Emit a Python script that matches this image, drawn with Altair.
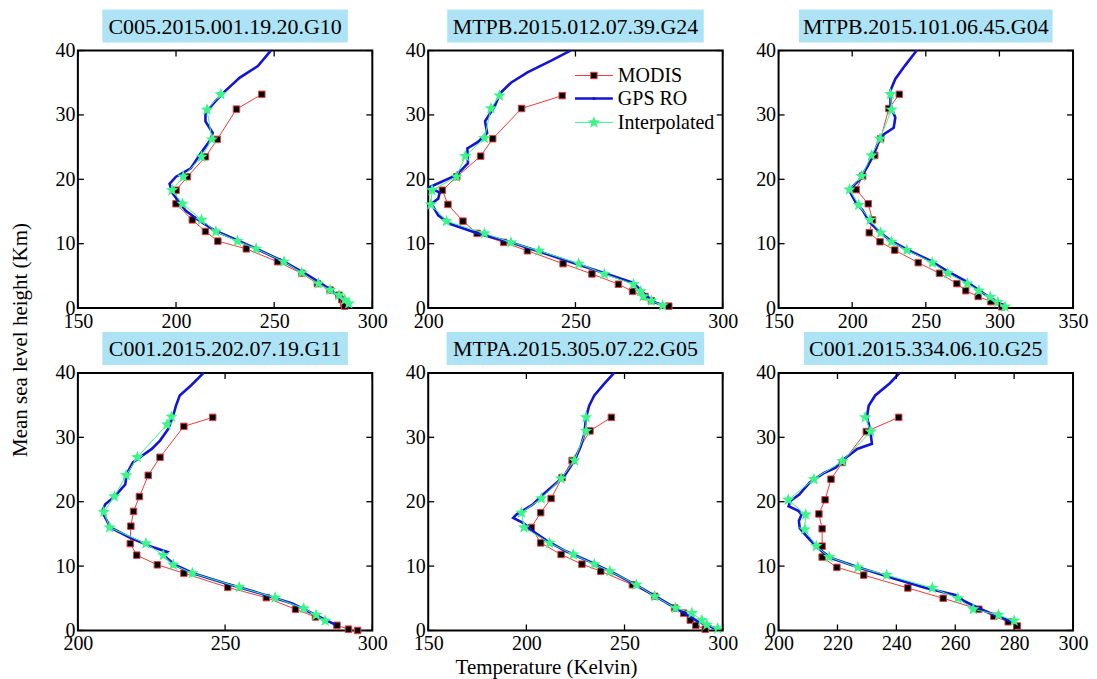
import math
import altair as alt
import pandas as pd

FONT = "Liberation Serif"
RED = "#ee3b3b"
BLUE = "#1414d6"
GREEN = "#3cf58a"
TITLE_BG = "#ade3f5"

W = 295
H = 258
TICK = 6

titles = ["C005.2015.001.19.20.G10", "MTPB.2015.012.07.39.G24", "MTPB.2015.101.06.45.G04",
          "C001.2015.202.07.19.G11", "MTPA.2015.305.07.22.G05", "C001.2015.334.06.10.G25"]
title_box_widths = [246, 257, 254, 246, 258, 244]
x_domains = [[150, 300], [200, 300], [150, 350], [200, 300], [150, 300], [200, 300]]
x_ticks = [[150, 200, 250, 300], [200, 250, 300], [150, 200, 250, 300, 350],
           [200, 250, 300], [150, 200, 250, 300], [200, 220, 240, 260, 280, 300]]
y_ticks = [0, 10, 20, 30, 40]
legend_labels = ["MODIS", "GPS RO", "Interpolated"]

# ---------- Panel 1 ----------
p1_modis_h = [33.2, 30.9, 26.2, 23.5, 20.4, 18.3, 16.2, 13.7, 11.9, 10.4, 9.2, 7.2, 5.4, 3.8, 2.8, 2.0, 1.3, 0.7, 0.3]
p1_modis_T = [243.7, 230.8, 221.0, 215.0, 205.8, 200.0, 200.0, 208.3, 215.0, 221.3, 235.8, 251.7, 264.0, 272.0, 278.5, 283.0, 284.5, 285.5, 286.0]
p1_interp_h = [33.2, 30.8, 26.2, 23.5, 20.4, 18.3, 16.2, 13.7, 11.9, 10.4, 9.2, 7.2, 5.5, 3.8, 2.8, 2.0, 1.3, 0.7]
p1_interp_T = [222.8, 215.8, 218.3, 213.0, 203.7, 198.0, 203.3, 213.0, 220.3, 231.3, 240.8, 255.0, 264.0, 272.5, 278.5, 283.0, 286.0, 288.0]
p1_gps_h = [40, 37.6, 35.8, 33.7, 32.1, 30.3, 29.0, 27.2, 26.1, 24.0, 21.7, 20.4, 19.3, 17.8, 16.4, 15.1, 13.6, 12.0, 10.7, 9.1, 7.2, 5.2, 4.0, 3.0, 2.0, 1.0, 0.2]
p1_gps_T = [248.3, 241.7, 232.5, 225.0, 220.0, 215.0, 215.0, 218.7, 217.5, 212.5, 207.5, 200.0, 196.7, 198.3, 201.7, 205.0, 211.7, 220.0, 230.0, 241.7, 255.0, 266.7, 273.0, 278.0, 282.0, 286.0, 288.0]

# ---------- Panel 2 ----------
p2_modis_h = [33.0, 31.0, 26.3, 23.6, 20.4, 18.3, 16.1, 13.5, 11.6, 10.2, 8.9, 6.9, 5.3, 3.7, 2.6, 1.8, 1.15, 0.3]
p2_modis_T = [245.5, 231.7, 221.9, 217.8, 209.7, 204.8, 206.7, 211.8, 216.6, 225.6, 233.7, 245.8, 255.6, 264.6, 269.4, 273.6, 275.8, 281.7]
p2_interp_h = [33.0, 31.0, 26.4, 23.6, 20.4, 18.3, 16.1, 13.5, 11.6, 10.2, 8.9, 6.9, 5.3, 3.7, 2.6, 1.8, 1.15, 0.4]
p2_interp_T = [224.2, 221.3, 219.1, 212.6, 209.6, 201.3, 200.9, 206.2, 219.1, 228.1, 237.6, 251.1, 259.8, 269.7, 272.1, 273.0, 275.8, 279.6]
p2_gps_h = [40, 38.4, 36.6, 35.0, 33.4, 31.3, 29.0, 27.2, 25.8, 24.8, 22.5, 21.4, 20.4, 18.8, 17.9, 17.0, 16.2, 14.4, 13.1, 11.6, 10.2, 8.7, 7.0, 5.3, 3.9, 2.4, 1.0, 0.3]
p2_gps_T = [248.3, 241.6, 233.7, 228.1, 224.5, 222.5, 219.3, 220.0, 216.9, 213.3, 213.5, 211.2, 208.4, 200.6, 203.9, 203.4, 201.1, 203.4, 207.3, 216.9, 228.1, 238.2, 249.4, 260.7, 269.7, 273.0, 276.4, 280.3]

# ---------- Panel 3 ----------
p3_modis_h = [33.2, 31.0, 26.3, 23.7, 20.5, 18.4, 16.2, 13.7, 11.7, 10.3, 9.0, 7.05, 5.4, 3.8, 2.7, 1.8, 1.0, 0.2]
p3_modis_T = [232.0, 224.9, 219.3, 215.3, 207.1, 202.7, 210.9, 213.8, 211.6, 218.9, 228.9, 244.9, 259.3, 271.1, 277.1, 285.6, 294.2, 301.6]
p3_interp_h = [33.2, 30.8, 26.3, 23.7, 20.5, 18.4, 16.0, 13.7, 11.7, 10.3, 9.0, 7.05, 5.4, 3.8, 2.7, 1.7, 0.9, 0.2]
p3_interp_T = [226.0, 226.7, 218.9, 213.1, 206.4, 198.2, 204.4, 212.2, 219.3, 226.7, 237.1, 254.4, 264.9, 278.2, 286.0, 293.8, 298.9, 303.8]
p3_gps_h = [40, 37.7, 35.6, 33.8, 31.4, 29.6, 28.0, 27.0, 26.0, 24.1, 22.0, 19.9, 18.9, 17.9, 16.3, 15.2, 13.4, 11.9, 10.5, 9.1, 7.4, 5.7, 4.2, 2.8, 1.4, 0.4]
p3_gps_T = [243.8, 236.0, 229.3, 226.0, 226.0, 229.3, 228.2, 221.6, 218.2, 214.9, 210.4, 204.9, 200.4, 198.9, 202.7, 207.1, 211.6, 218.2, 226.0, 237.1, 252.7, 264.9, 277.1, 286.0, 294.9, 302.7]

# ---------- Panel 4 ----------
p4_modis_h = [33.1, 31.7, 26.9, 24.1, 20.8, 18.5, 16.2, 13.5, 11.7, 10.2, 8.9, 6.7, 5.1, 3.3, 2.1, 0.8, 0.2, 0.0]
p4_modis_T = [245.8, 236.0, 227.9, 223.9, 220.9, 218.9, 218.0, 217.8, 220.0, 227.0, 236.0, 250.9, 264.0, 273.9, 280.7, 288.0, 291.9, 295.0]
p4_interp_h = [33.2, 32.0, 26.9, 24.1, 20.8, 18.4, 16.0, 13.5, 11.7, 10.2, 8.9, 6.7, 5.1, 3.4, 2.4, 1.5]
p4_interp_T = [231.8, 230.3, 220.2, 216.4, 212.4, 208.8, 210.8, 223.1, 229.0, 232.4, 238.9, 254.8, 267.0, 276.7, 280.9, 284.0]
p4_gps_h = [40, 38.1, 36.5, 34.9, 33.4, 31.3, 29.5, 28.2, 27.1, 26.1, 24.3, 22.7, 20.9, 19.6, 18.5, 17.0, 16.0, 14.4, 13.1, 12.2, 11.8, 10.2, 8.9, 7.3, 5.8, 4.2, 2.4, 0.9]
p4_gps_T = [242.7, 238.5, 234.6, 233.3, 232.4, 230.7, 227.9, 225.1, 221.7, 218.7, 216.6, 216.1, 212.7, 209.3, 208.2, 209.9, 211.0, 217.8, 224.5, 230.3, 228.8, 232.9, 239.1, 250.3, 261.6, 272.8, 280.7, 287.4]

# ---------- Panel 5 ----------
p5_modis_h = [33.1, 31.0, 26.4, 23.75, 20.5, 18.3, 16.0, 13.6, 11.8, 10.3, 9.2, 7.1, 5.3, 3.5, 2.7, 1.6, 0.8, 0.2]
p5_modis_T = [243.3, 232.4, 223.3, 218.2, 212.6, 207.3, 202.5, 207.3, 217.7, 228.3, 237.9, 254.0, 265.4, 275.5, 280.1, 283.5, 286.3, 291.1]
p5_interp_h = [33.1, 31.0, 26.4, 23.6, 20.5, 18.3, 16.0, 13.6, 11.8, 10.3, 9.2, 7.1, 5.3, 3.5, 2.7, 1.6, 0.9, 0.3]
p5_interp_T = [230.4, 230.4, 224.5, 217.7, 207.6, 197.5, 198.8, 211.8, 223.9, 234.6, 242.5, 256.0, 265.4, 275.9, 284.3, 289.4, 291.9, 297.5]
p5_gps_h = [40, 38.3, 36.5, 34.9, 33.1, 30.5, 28.7, 26.9, 25.6, 24.0, 22.2, 21.1, 19.6, 18.0, 17.5, 16.7, 15.4, 14.0, 12.3, 10.5, 8.75, 6.8, 4.7, 2.9, 1.35, 0.3]
p5_gps_T = [244.7, 239.6, 234.6, 232.0, 230.4, 229.5, 227.8, 225.3, 222.8, 219.4, 212.6, 208.4, 203.4, 194.9, 193.3, 198.3, 203.4, 210.1, 220.2, 233.7, 245.5, 257.3, 269.1, 279.3, 287.7, 296.1]

# ---------- Panel 6 ----------
p6_modis_h = [33.1, 30.9, 26.1, 23.5, 20.3, 18.1, 15.8, 13.1, 11.4, 9.8, 8.6, 6.6, 5.0, 3.3, 2.2, 1.35, 0.7]
p6_modis_T = [240.8, 229.8, 221.7, 217.8, 215.8, 213.7, 214.8, 214.8, 214.8, 219.8, 228.9, 243.9, 255.9, 268.0, 273.1, 278.0, 281.1]
p6_interp_h = [33.1, 30.9, 26.3, 23.5, 20.3, 18.0, 15.7, 13.1, 11.4, 9.8, 8.6, 6.6, 5.0, 3.3, 2.4, 1.5]
p6_interp_T = [229.4, 231.3, 221.7, 212.0, 203.3, 209.2, 208.9, 212.8, 217.2, 226.9, 236.7, 252.2, 260.9, 266.1, 274.7, 280.0]
p6_gps_h = [40, 38.4, 36.5, 34.9, 33.1, 31.3, 29.0, 28.2, 26.6, 25.3, 24.5, 23.0, 21.1, 20.1, 19.3, 18.6, 18.0, 17.0, 15.9, 14.4, 12.8, 11.25, 9.7, 8.1, 6.6, 5.5, 4.5, 3.5, 2.4, 1.25]
p6_gps_T = [241.1, 237.8, 232.8, 230.6, 230.0, 231.1, 231.7, 226.7, 222.2, 219.4, 215.6, 210.6, 207.0, 204.0, 203.4, 206.7, 207.8, 206.9, 207.2, 210.0, 213.3, 217.8, 227.8, 238.9, 250.0, 260.0, 263.3, 267.8, 273.3, 280.0]

panels = [
    (p1_modis_T, p1_modis_h, p1_gps_T, p1_gps_h, p1_interp_T, p1_interp_h),
    (p2_modis_T, p2_modis_h, p2_gps_T, p2_gps_h, p2_interp_T, p2_interp_h),
    (p3_modis_T, p3_modis_h, p3_gps_T, p3_gps_h, p3_interp_T, p3_interp_h),
    (p4_modis_T, p4_modis_h, p4_gps_T, p4_gps_h, p4_interp_T, p4_interp_h),
    (p5_modis_T, p5_modis_h, p5_gps_T, p5_gps_h, p5_interp_T, p5_interp_h),
    (p6_modis_T, p6_modis_h, p6_gps_T, p6_gps_h, p6_interp_T, p6_interp_h),
]

# five-pointed star marker shape
pts = []
for k in range(10):
    r = 1.0 if k % 2 == 0 else 0.42
    a = -math.pi / 2 + k * math.pi / 5
    pts.append(f"{r * math.cos(a):.3f},{r * math.sin(a):.3f}")
STAR = "M" + "L".join(pts) + "Z"

one_row = alt.Data(values=[{"k": 0}])


def make_panel(i):
    mT, mh, gT, gh, iT, ih = panels[i]
    rows = ([{"T": t, "h": h, "s": legend_labels[0]} for t, h in zip(mT, mh)] +
            [{"T": t, "h": h, "s": legend_labels[1]} for t, h in zip(gT, gh)] +
            [{"T": t, "h": h, "s": legend_labels[2]} for t, h in zip(iT, ih)])
    df = pd.DataFrame(rows)
    xsc = alt.Scale(domain=x_domains[i], nice=False, zero=False)
    ysc = alt.Scale(domain=[0, 40], nice=False, zero=False)

    xb_kw = dict(values=x_ticks[i])
    if i == 4:
        xb_kw.update(title="Temperature (Kelvin)", titleX=118, titleAlign="center", titlePadding=3)
    else:
        xb_kw.update(title=None)
    x_axis = alt.X("T:Q", scale=xsc, axis=alt.Axis(**xb_kw))
    y_axis = alt.Y("h:Q", scale=ysc, axis=alt.Axis(values=y_ticks, title=None))
    x_none = alt.X("T:Q", scale=xsc, axis=None)
    y_none = alt.Y("h:Q", scale=ysc, axis=None)

    base = alt.Chart(df)
    order = alt.Order("h:Q")
    f_m = alt.datum.s == legend_labels[0]
    f_g = alt.datum.s == legend_labels[1]
    f_i = alt.datum.s == legend_labels[2]

    # inward tick marks on all four sides, positioned through the scales
    xt = alt.Chart(pd.DataFrame({"v": x_ticks[i]}))
    yt = alt.Chart(pd.DataFrame({"v": y_ticks}))
    xv = alt.X("v:Q", scale=xsc, axis=None)
    yv = alt.Y("v:Q", scale=ysc, axis=None)
    tick_layers = [
        xt.mark_rule(color="black", strokeWidth=1.3).encode(x=xv, y=alt.value(H - TICK), y2=alt.value(H)),
        xt.mark_rule(color="black", strokeWidth=1.3).encode(x=xv, y=alt.value(0), y2=alt.value(TICK)),
        yt.mark_rule(color="black", strokeWidth=1.3).encode(y=yv, x=alt.value(0), x2=alt.value(TICK)),
        yt.mark_rule(color="black", strokeWidth=1.3).encode(y=yv, x=alt.value(W - TICK), x2=alt.value(W)),
    ]

    layers = [
        base.transform_filter(f_m).mark_line(color=RED, strokeWidth=1).encode(
            x=x_axis, y=y_axis, order=order),
        base.transform_filter(f_m).mark_square(size=42, color="black", stroke=RED, strokeWidth=1, opacity=1).encode(
            x=x_none, y=y_none),
        base.transform_filter(f_g).mark_line(color=BLUE, strokeWidth=2.6).encode(
            x=x_none, y=y_none, order=order),
        base.transform_filter(f_i).mark_line(color=GREEN, strokeWidth=1).encode(
            x=x_none, y=y_none, order=order),
        base.transform_filter(f_i).mark_point(shape=STAR, filled=True, color=GREEN, size=170, opacity=1).encode(
            x=x_none, y=y_none),
    ] + tick_layers
    cx = W / 2
    bw = title_box_widths[i]
    layers.append(alt.Chart(one_row).mark_rect(color=TITLE_BG).encode(
        x=alt.value(cx - bw / 2), x2=alt.value(cx + bw / 2), y=alt.value(-41), y2=alt.value(-8)))
    layers.append(alt.Chart(one_row).mark_text(font=FONT, fontSize=22, color="black",
                                               align="center", baseline="middle").encode(
        x=alt.value(cx), y=alt.value(-24), text=alt.value(titles[i])))
    if i == 1:
        lx0, lx1, tx = 147, 185, 190
        ys = [25, 48, 72]
        cols = [RED, BLUE, GREEN]
        widths = [1, 2.6, 1]
        for k in range(3):
            layers.append(alt.Chart(one_row).mark_rule(color=cols[k], strokeWidth=widths[k]).encode(
                x=alt.value(lx0), x2=alt.value(lx1), y=alt.value(ys[k])))
            layers.append(alt.Chart(one_row).mark_text(font=FONT, fontSize=20, color="black",
                                                       align="left", baseline="middle").encode(
                x=alt.value(tx), y=alt.value(ys[k] + 1), text=alt.value(legend_labels[k])))
        mid = (lx0 + lx1) / 2
        layers.append(alt.Chart(one_row).mark_square(size=42, color="black", stroke=RED, strokeWidth=1, opacity=1).encode(
            x=alt.value(mid), y=alt.value(ys[0])))
        layers.append(alt.Chart(one_row).mark_circle(size=10, color=BLUE, opacity=1).encode(
            x=alt.value(mid), y=alt.value(ys[1])))
        layers.append(alt.Chart(one_row).mark_point(shape=STAR, filled=True, color=GREEN, size=170, opacity=1).encode(
            x=alt.value(mid), y=alt.value(ys[2])))
    if i == 3:
        layers.append(alt.Chart(one_row).mark_text(font=FONT, fontSize=21, color="black", angle=270,
                                                   align="center", baseline="middle").encode(
            x=alt.value(-57), y=alt.value(-33), text=alt.value("Mean sea level height (Km)")))
    return alt.layer(*layers).resolve_axis(x="independent", y="independent").properties(width=W, height=H)


chart = alt.concat(*[make_panel(i) for i in range(6)], columns=3,
                   spacing={"row": 65, "column": 56}, bounds="flush").properties(
    padding={"left": 0, "top": 0, "right": 0, "bottom": 4}, background="white"
).configure_view(stroke="black", strokeWidth=2).configure_axis(
    labelFont=FONT, labelFontSize=20, labelColor="black", labelPadding=3,
    labelFlush=False, labelOverlap=False,
    domain=False, ticks=False, grid=False,
    titleFont=FONT, titleFontSize=21, titleColor="black", titleFontWeight="normal",
)

chart.save("out.html", embed_options={"renderer": "svg", "actions": False})
